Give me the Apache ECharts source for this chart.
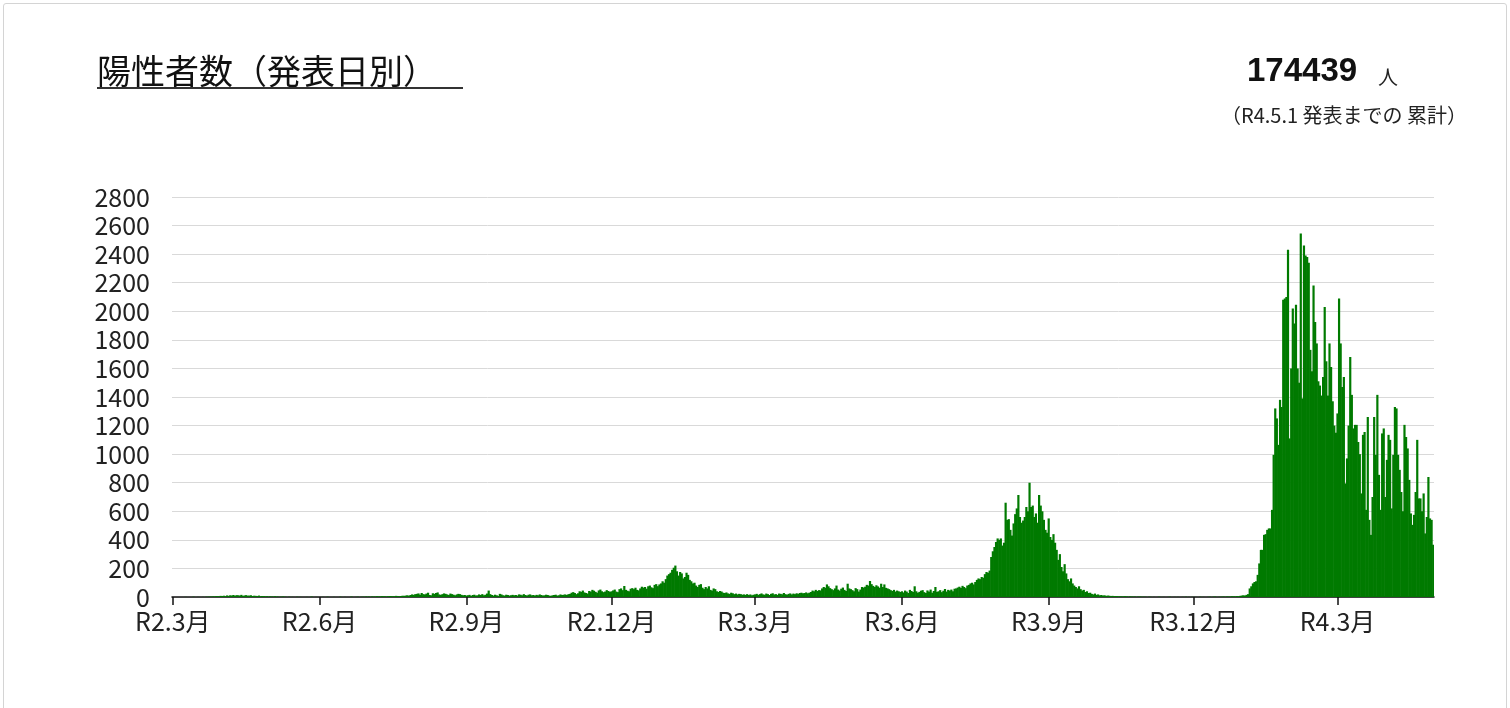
<!DOCTYPE html>
<html>
<head>
<meta charset="utf-8">
<title>陽性者数（発表日別）</title>
<script src="https://cdn.jsdelivr.net/npm/echarts@6/dist/echarts.min.js"></script>
<style>
  html, body { margin: 0; padding: 0; background: #fff; }
  #chart { position: absolute; left: 0; top: 0; width: 1510px; height: 708px; }
  #frame { position: absolute; left: 3px; top: 3px; width: 1502px; height: 720px;
           border: 1px solid #d4d4d4; border-radius: 3px; pointer-events: none; }
</style>
</head>
<body>
<div id="chart"></div>
<div id="frame"></div>
<script>
// 日別の陽性者数（R2.3.1 〜 R4.4.30）
const cases2020 = [
  0,0,0,0,0,0,0,0,1,0,0,0,0,2,0,0,1,0,0,1,0,2,1,3,2,4,3,5,6,4,8,                       // 3月
  7,9,5,11,8,12,10,14,9,13,12,10,15,8,11,13,9,10,12,7,9,8,6,10,5,7,6,4,5,3,             // 4月
  4,3,2,5,3,2,1,2,3,2,1,0,2,0,1,0,0,2,0,1,0,0,0,1,0,0,3,0,0,1,0,                        // 5月
  0,0,1,0,0,2,0,0,0,1,0,0,0,2,0,0,1,0,0,0,3,0,0,1,2,0,1,2,1,3,                          // 6月
  2,3,1,4,2,3,5,4,3,6,5,4,3,5,7,6,4,5,8,6,5,7,9,8,10,12,9,14,18,15,20,                  // 7月
  22,25,16,28,20,18,24,30,14,12,26,22,28,32,18,15,20,25,22,18,14,24,20,16,12,18,22,20,15,12,14, // 8月
  10,12,15,8,14,16,10,12,18,14,20,12,16,24,45,20,14,10,16,12,8,22,18,12,10,16,14,10,12,15,       // 9月
  12,14,10,18,16,12,20,14,10,16,18,12,14,10,15,12,18,14,10,12,16,14,10,8,12,14,16,10,12,18,14,   // 10月
  16,18,14,20,22,30,34,28,20,26,40,36,45,32,28,24,42,38,50,44,36,30,46,52,40,34,38,48,42,36,     // 11月
  40,46,52,38,34,55,60,48,77,50,44,40,58,62,55,65,50,46,60,72,66,70,58,75,80,68,62,85,90,76,88   // 12月
];
const cases2021 = [
  95,110,100,125,150,160,170,190,205,220,180,150,175,165,130,140,170,155,120,110,95,100,80,70,85,90,65,55,70,60,75, // 1月
  50,45,60,55,40,35,42,38,30,28,32,25,22,30,26,20,24,18,22,20,16,18,15,20,14,18,12,16,            // 2月
  18,22,15,20,25,18,16,24,20,14,22,26,18,20,15,24,22,19,28,20,16,22,25,18,24,20,26,22,28,30,26,   // 3月
  28,32,26,30,35,45,40,50,42,48,46,60,70,65,88,75,62,55,48,60,80,52,45,58,66,50,42,93,60,55,      // 4月
  48,40,62,55,38,52,70,66,72,85,80,112,90,78,70,82,74,65,93,70,88,64,60,55,48,42,50,38,45,40,35,  // 5月
  40,32,45,38,28,50,42,35,75,40,30,36,44,48,34,28,46,38,52,30,42,70,36,40,48,34,44,56,38,50,      // 6月
  45,52,40,58,60,66,72,64,78,70,62,80,85,95,100,88,105,120,130,125,140,135,160,175,170,185,280,320,350,385,410, // 7月
  400,410,360,380,660,540,545,470,430,515,580,620,714,560,520,535,560,630,600,800,630,640,560,585,520,714,640,600,540,470,450, // 8月
  550,420,400,440,380,330,260,300,210,180,230,165,125,110,130,95,80,70,60,75,55,45,50,35,40,28,30,22,18,24, // 9月
  15,18,12,14,10,12,8,10,9,6,8,5,7,6,4,5,3,4,6,3,2,4,3,2,3,1,2,3,2,1,2,                           // 10月
  1,0,2,1,0,1,0,0,2,1,0,1,0,0,1,2,0,0,1,0,1,0,0,1,0,2,0,1,0,1,                                     // 11月
  0,1,0,0,2,0,1,0,0,1,2,0,1,3,1,0,2,1,3,2,1,4,2,3,5,4,3,6,5,8,10                                   // 12月
];
const cases2022 = [
  12,10,15,20,60,75,95,105,110,155,235,330,330,435,440,470,480,480,610,995,1320,1250,1065,1380,1330,2080,2090,2100,2430,1110,1600, // 1月
  2020,1915,2045,1600,1500,2545,1390,2460,2390,2380,2340,1730,1580,2180,1925,1775,1510,1480,1410,1540,2030,1650,1410,1775,1610,1370,1200,1150, // 2月
  1285,2090,1775,1470,1540,795,970,1200,1680,1415,1180,1205,1205,1085,1000,725,1135,1155,610,1260,540,435,700,1260,995,1415,855,610,1145,1180,700, // 3月
  960,1135,1100,620,995,1330,1320,995,890,735,600,1205,1120,1040,820,585,505,575,735,1100,690,690,600,725,445,560,840,550,540,365 // 4月
];

const startDate = [2020, 3, 1];
const labelMonths = [3, 6, 9, 12];
const yMax = 2800;
const yStep = 200;
const titleText = '陽性者数（発表日別）';
const totalText = '174439';
const totalUnit = '人';
const totalNote = '（R4.5.1 発表までの 累計）';

let cases = cases2020.concat(cases2021, cases2022);

// 日付カテゴリ
let dates = [];
let t0 = Date.UTC(startDate[0], startDate[1] - 1, startDate[2]);
for (let i = 0; i < cases.length; i++) {
  let d = new Date(t0 + i * 86400000);
  dates.push(d.getUTCFullYear() + '-' + (d.getUTCMonth() + 1) + '-' + d.getUTCDate());
}

function isLabelDay(index, value) {
  if (!value) return false;
  let p = value.split('-');
  return p[2] === '1' && labelMonths.indexOf(+p[1]) >= 0;
}

let labelFont = "'Noto Sans CJK JP', sans-serif";
let jpFont = "'Noto Sans CJK JP', sans-serif";

let myChart = echarts.init(document.getElementById('chart'));
let option = {
  animation: false,
  backgroundColor: '#fff',
  grid: { left: 172, right: 76, top: 197, bottom: 111 },
  xAxis: {
    type: 'category',
    data: dates,
    axisLine: { lineStyle: { color: '#111', width: 1.5 } },
    axisTick: { show: true, alignWithLabel: true, interval: isLabelDay, length: 8, lineStyle: { color: '#111', width: 1.5 } },
    axisLabel: {
      interval: isLabelDay,
      margin: 12,
      fontSize: 25,
      fontFamily: labelFont,
      color: '#222',
      formatter: function (value) {
        let p = value.split('-');
        return 'R' + (p[0] - 2018) + '.' + p[1] + '月';
      }
    }
  },
  yAxis: {
    type: 'value',
    min: 0,
    max: yMax,
    interval: yStep,
    axisLine: { show: false },
    axisTick: { show: false },
    splitLine: { lineStyle: { color: '#d9d9d9', width: 1 } },
    axisLabel: {
      margin: 22,
      fontSize: 25,
      fontFamily: labelFont,
      color: '#222',
      formatter: function (v) { return String(v); }
    }
  },
  series: [{
    type: 'bar',
    data: cases,
    barWidth: 2.2,
    itemStyle: { color: '#007a00' }
  }],
  graphic: [
    { type: 'text', x: 97, y: 71, style: { text: titleText, fontSize: 34, fontFamily: jpFont, fill: '#111', align: 'left', verticalAlign: 'middle' } },
    { type: 'line', shape: { x1: 97, y1: 88, x2: 463, y2: 88 }, style: { stroke: '#333', lineWidth: 2 } },
    { type: 'text', x: 1247, y: 72, style: { text: totalText, fontSize: 33, fontWeight: 'bold', fontFamily: "'Liberation Sans', Arial, sans-serif", fill: '#111', align: 'left', verticalAlign: 'middle' } },
    { type: 'text', x: 1378, y: 77, style: { text: totalUnit, fontSize: 20, fontFamily: jpFont, fill: '#222', align: 'left', verticalAlign: 'middle' } },
    { type: 'text', x: 1221, y: 115, style: { text: totalNote, fontSize: 20, fontFamily: jpFont, fill: '#222', align: 'left', verticalAlign: 'middle' } }
  ]
};
myChart.setOption(option);
</script>
</body>
</html>
